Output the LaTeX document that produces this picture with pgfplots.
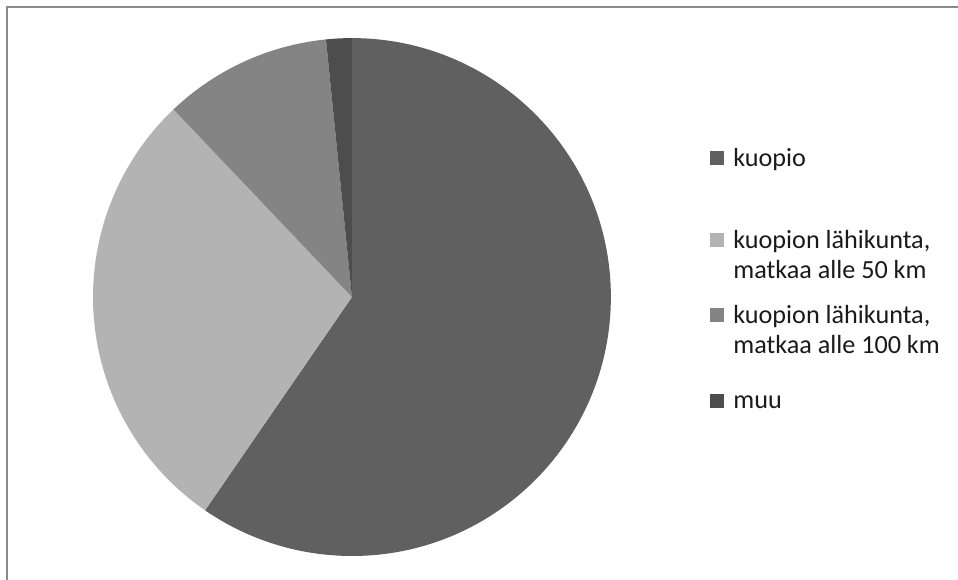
\documentclass[border=0pt]{standalone}
\usepackage{pgfplots}
\pgfplotsset{compat=1.18}
\usepackage{pgfplotstable}
\usepackage{fontspec}
\setmainfont{Carlito}
\definecolor{ckuo}{HTML}{606060}
\definecolor{cfifty}{HTML}{B3B3B3}
\definecolor{chundred}{HTML}{848484}
\definecolor{cmuu}{HTML}{4D4D4D}
\definecolor{cframe}{HTML}{8A8A8A}
\definecolor{ctext}{HTML}{1A1A1A}

\pgfplotstableread{
label value
kuopio 59.6
lahi50 28.3
lahi100 10.5
muu 1.6
}\piedata

\begin{document}
\begin{tikzpicture}[x=0.02cm,y=0.02cm]
\useasboundingbox (0,0) rectangle (958,580);
\pgfplotstablegetelem{0}{value}\of\piedata\pgfmathsetmacro\va{\pgfplotsretval}
\pgfplotstablegetelem{1}{value}\of\piedata\pgfmathsetmacro\vb{\pgfplotsretval}
\pgfplotstablegetelem{2}{value}\of\piedata\pgfmathsetmacro\vc{\pgfplotsretval}
\pgfplotstablegetelem{3}{value}\of\piedata\pgfmathsetmacro\vd{\pgfplotsretval}
\pgfmathsetmacro\aZ{90}
\pgfmathsetmacro\aA{\aZ-3.6*\va}
\pgfmathsetmacro\aB{\aA-3.6*\vb}
\pgfmathsetmacro\aC{\aB-3.6*\vc}
\pgfmathsetmacro\aD{\aC-3.6*\vd}
\begin{axis}[
  x=5.18cm, y=5.18cm,
  xmin=-1, xmax=1, ymin=-1, ymax=1,
  hide axis, clip=false,
  anchor=origin, at={(7.04cm,5.66cm)},
]
\fill[ckuo] (axis cs:0,0) -- (axis cs:{cos(\aZ)},{sin(\aZ)}) arc[start angle=\aZ, end angle=\aA, radius=5.18cm] -- cycle;
\fill[cfifty] (axis cs:0,0) -- (axis cs:{cos(\aA)},{sin(\aA)}) arc[start angle=\aA, end angle=\aB, radius=5.18cm] -- cycle;
\fill[chundred] (axis cs:0,0) -- (axis cs:{cos(\aB)},{sin(\aB)}) arc[start angle=\aB, end angle=\aC, radius=5.18cm] -- cycle;
\fill[cmuu] (axis cs:0,0) -- (axis cs:{cos(\aC)},{sin(\aC)}) arc[start angle=\aC, end angle=\aD, radius=5.18cm] -- cycle;
\end{axis}
% frame
\draw[cframe, line width=0.04cm] (7,-2) -- (7,573) -- (960,573);
% legend
\tikzset{lt/.style={anchor=base west, inner sep=0pt, text=ctext, font=\fontsize{14.9pt}{17pt}\selectfont}}
\fill[ckuo] (710,415) rectangle +(13.5,13.5);
\node[lt] at (733,413) {kuopio};
\fill[cfifty] (710,333) rectangle +(13.5,13.5);
\node[lt] at (733,331) {kuopion lähikunta,};
\node[lt] at (733,301) {matkaa alle 50 km};
\fill[chundred] (710,258) rectangle +(13.5,13.5);
\node[lt] at (733,256) {kuopion lähikunta,};
\node[lt] at (733,226) {matkaa alle 100 km};
\fill[cmuu] (710,172) rectangle +(13.5,13.5);
\node[lt] at (733,171) {muu};
\end{tikzpicture}
\end{document}
